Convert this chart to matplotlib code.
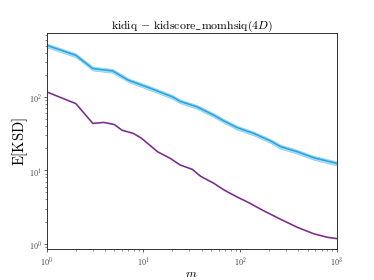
import matplotlib
matplotlib.use("Agg")
import matplotlib.pyplot as plt
import numpy as np

plt.rcParams['font.family'] = 'serif'
plt.rcParams['font.serif'] = ['cmr10', 'DejaVu Serif']
plt.rcParams['mathtext.fontset'] = 'cm'
plt.rcParams['axes.formatter.use_mathtext'] = True
plt.rcParams['axes.unicode_minus'] = False

# Data
m_blue = [1, 2, 3, 4.8, 7, 12, 20, 24, 36, 54, 68, 94, 139, 208, 262, 391, 580, 1000]
ksd_blue = [505, 369, 243, 226, 169, 130, 100, 87, 73, 56, 47, 38, 31.7, 25, 21, 17.9, 14.8, 12.4]
ksd_blue_lo = [475, 347, 229, 213, 159, 122, 94, 82, 68.6, 52.6, 44.2, 35.7, 29.8, 23.5, 19.7, 16.8, 13.9, 11.6]
ksd_blue_hi = [535, 391, 258, 240, 179, 138, 106, 92, 77.4, 59.4, 49.8, 40.3, 33.6, 26.5, 22.3, 19.0, 15.7, 13.2]

m_purple = [1, 2, 3, 3.9, 5, 6, 7.9, 9.4, 10, 14, 19, 24, 32, 39, 54, 68, 94, 119, 176, 262, 391, 580, 800, 1000]
ksd_purple = [117, 81, 43.5, 44.9, 42, 35.2, 31.7, 27.7, 26, 17.9, 14.5, 11.8, 10.3, 8.3, 6.6, 5.4, 4.3, 3.7, 2.8, 2.15, 1.67, 1.36, 1.22, 1.17]

DPI = 58.44
fig = plt.figure(figsize=(6.4, 4.8), dpi=DPI)
ax = fig.add_axes([0.125, 0.11, 0.775, 0.77])

ax.fill_between(m_blue, ksd_blue_lo, ksd_blue_hi, color='#8fd3f4', alpha=0.7,
                edgecolor='#6cc4ee', linewidth=1.0)
ax.plot(m_blue, ksd_blue, color='#2ba4de', linewidth=2.0)
ax.plot(m_purple, ksd_purple, color='#7b2d8e', linewidth=2.0)

ax.set_xscale('log')
ax.set_yscale('log')
ax.set_xlim(1, 1000)
ax.set_ylim(0.84, 740)

ax.set_title(r'kidiq $-$ kidscore$\_$momhsiq$(4D)$', fontsize=14.5, pad=3)
ax.set_xlabel(r'$m$', fontsize=15, labelpad=0)
ax.set_ylabel(r'$\mathrm{E}[\mathrm{KSD}]$', fontsize=18, labelpad=-2)

ax.tick_params(axis='both', which='major', labelsize=10, length=3.5, width=0.9,
               colors='#333333', labelcolor='#444444', pad=2.5)
ax.tick_params(axis='both', which='minor', length=2, width=0.7, colors='#333333')
for s in ax.spines.values():
    s.set_color('#333333')
    s.set_linewidth(1.2)

fig.savefig('out.png', dpi=DPI)
